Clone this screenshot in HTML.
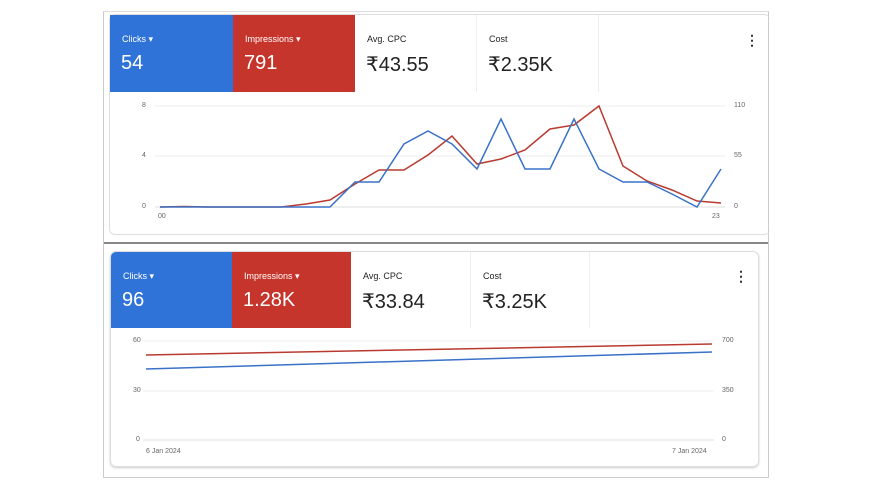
<!DOCTYPE html>
<html><head><meta charset="utf-8"><style>
body{margin:0;width:872px;height:489px;background:#fff;position:relative;overflow:hidden;font-family:"Liberation Sans",sans-serif}
.a{position:absolute}
.t{position:absolute;box-sizing:border-box;padding-left:12px}
.lab{font-size:9px;position:absolute;top:19px;left:12px;white-space:nowrap}
.val{font-size:20px;position:absolute;top:37px;left:11px;white-space:nowrap}
.b{background:#2f73d9;color:#fff}.r{background:#c5352b;color:#fff}.w{color:#222;border-right:1px solid #eee}
.tk{position:absolute;font-size:7px;color:#666}
</style></head><body>
<div class="a" style="left:103px;top:11px;width:664px;height:465px;border:1px solid #ccc;border-top:1px solid #ddd"></div>
<div class="a" style="left:104px;top:242px;width:664px;height:2px;background:#888"></div>
<div class="a" style="left:109px;top:14px;width:660px;height:219px;border:1px solid #ddd;border-radius:6px;border-right:none"></div>
<div class="t b" style="left:110px;top:15px;width:123px;height:77px"><span class="lab">Clicks ▾</span><span class="val">54</span></div>
<div class="t r" style="left:233px;top:15px;width:122px;height:77px"><span class="lab">Impressions ▾</span><span class="val">791</span></div>
<div class="t w" style="left:355px;top:15px;width:122px;height:77px"><span class="lab">Avg. CPC</span><span class="val">₹43.55</span></div>
<div class="t w" style="left:477px;top:15px;width:122px;height:77px"><span class="lab">Cost</span><span class="val">₹2.35K</span></div>
<div class="a" style="left:745px;top:32px;font-size:14px;font-weight:bold;color:#333">⋮</div>
<div class="a" style="left:110px;top:251px;width:647px;height:214px;border:1px solid #ddd;border-radius:6px;box-shadow:0 1px 2px #ccc"></div>
<div class="t b" style="left:111px;top:252px;width:121px;height:76px;border-top-left-radius:5px"><span class="lab">Clicks ▾</span><span class="val">96</span></div>
<div class="t r" style="left:232px;top:252px;width:119px;height:76px"><span class="lab">Impressions ▾</span><span class="val">1.28K</span></div>
<div class="t w" style="left:351px;top:252px;width:120px;height:76px"><span class="lab">Avg. CPC</span><span class="val">₹33.84</span></div>
<div class="t w" style="left:471px;top:252px;width:119px;height:76px"><span class="lab">Cost</span><span class="val">₹3.25K</span></div>
<div class="a" style="left:734px;top:268px;font-size:14px;font-weight:bold;color:#333">⋮</div>
<svg class="a" style="left:0;top:0" width="872" height="489">
<g stroke="#eee" stroke-width="1"><line x1="155" y1="106" x2="725" y2="106"/><line x1="155" y1="156" x2="725" y2="156"/><line x1="155" y1="207" x2="725" y2="207" stroke="#ddd"/>
<line x1="143" y1="341" x2="714" y2="341"/><line x1="143" y1="391" x2="714" y2="391"/><line x1="143" y1="440" x2="714" y2="440" stroke="#ddd"/></g>
<polyline fill="none" stroke="#b83a30" stroke-width="1.5" points="160,207 184,206.5 208,207 233,207 257,207 281,207 306,204 330,200 355,184 379,170 404,170 428,155 452,136 477,164 501,159 525,150 550,129 574,125 599,106 623,166 647,181 672,190 697,201 721,203"/>
<polyline fill="none" stroke="#3a72c8" stroke-width="1.5" points="160,207 184,207 208,207 233,207 257,207 281,207 306,207 330,207 355,182 379,182 404,144 428,131 452,144 477,169 501,119 525,169 550,169 574,119 599,169 623,182 647,182 672,194 697,207 721,169"/>
<line x1="146" y1="355" x2="712" y2="344" stroke="#b83a30" stroke-width="1.5"/>
<line x1="146" y1="369" x2="712" y2="352" stroke="#3a72c8" stroke-width="1.5"/>
</svg>
<div class="tk" style="left:142px;top:102px">8</div><div class="tk" style="left:142px;top:152px">4</div><div class="tk" style="left:142px;top:203px">0</div>
<div class="tk" style="left:734px;top:102px">110</div><div class="tk" style="left:734px;top:152px">55</div><div class="tk" style="left:734px;top:203px">0</div>
<div class="tk" style="left:158px;top:213px">00</div><div class="tk" style="left:712px;top:213px">23</div>
<div class="tk" style="left:133px;top:337px">60</div><div class="tk" style="left:133px;top:387px">30</div><div class="tk" style="left:136px;top:436px">0</div>
<div class="tk" style="left:722px;top:337px">700</div><div class="tk" style="left:722px;top:387px">350</div><div class="tk" style="left:722px;top:436px">0</div>
<div class="tk" style="left:146px;top:448px">6 Jan 2024</div><div class="tk" style="left:672px;top:448px">7 Jan 2024</div>
</body></html>
